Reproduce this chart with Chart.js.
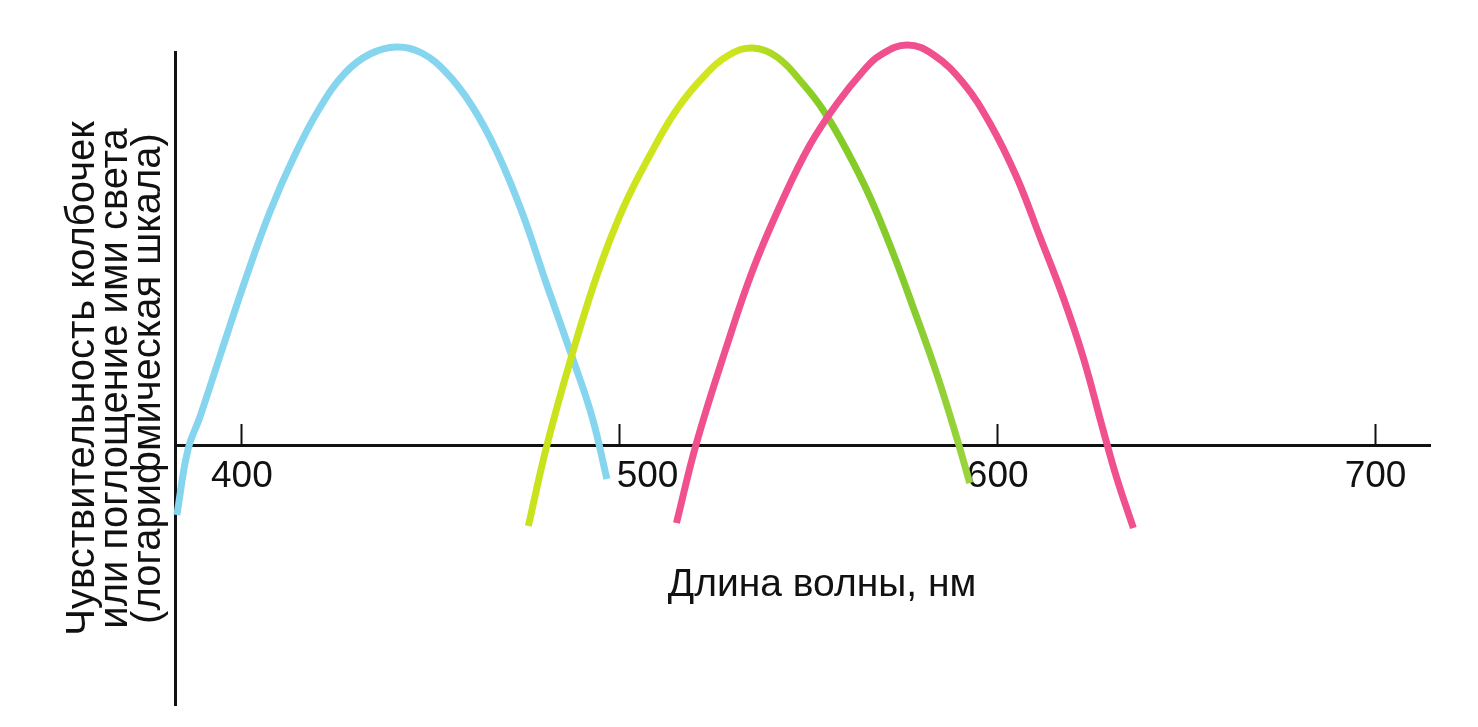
<!DOCTYPE html>
<html>
<head>
<meta charset="utf-8">
<script src="https://cdn.jsdelivr.net/npm/chart.js@4/dist/chart.umd.min.js"></script>
<style>
  html, body { margin: 0; padding: 0; background: #ffffff; }
  #wrap { width: 1478px; height: 727px; position: relative; }
</style>
</head>
<body>
<div id="wrap"><canvas id="c" width="1478" height="727"></canvas></div>
<script>
// ---- Data (wavelength in nm, relative sensitivity on a log scale, arbitrary units) ----
const blueWavelengths  = [382.8, 385.7, 388.9, 394.2, 400.8, 407.4, 414.0, 420.6, 427.3, 433.9, 441.0, 447.6, 454.2, 460.9, 467.5, 474.1, 480.7, 487.3, 492.6, 496.6];
const blueValues       = [-0.70, -0.05, 0.28, 0.89, 1.64, 2.33, 2.90, 3.37, 3.72, 3.91, 3.98, 3.92, 3.72, 3.39, 2.93, 2.33, 1.60, 0.89, 0.29, -0.34];

const greenWavelengths = [475.8, 480.6, 486.8, 493.9, 500.9, 508.0, 515.0, 522.1, 528.9, 535.2, 541.6, 548.5, 553.8, 560.0, 566.2, 572.3, 577.6, 583.8, 589.1, 592.6];
const greenValues      = [-0.81, -0.02, 0.83, 1.69, 2.37, 2.90, 3.35, 3.68, 3.90, 3.97, 3.88, 3.61, 3.35, 2.95, 2.48, 1.92, 1.38, 0.72, 0.08, -0.38];

const pinkWavelengths  = [515.0, 520.3, 528.3, 535.3, 543.2, 550.3, 557.4, 564.4, 568.8, 576.0, 583.1, 590.9, 597.9, 605.0, 611.2, 617.3, 622.6, 627.9, 631.5, 635.9];
const pinkValues       = [-0.78, 0.02, 0.99, 1.76, 2.46, 3.00, 3.41, 3.74, 3.895, 4.00, 3.90, 3.62, 3.22, 2.68, 2.08, 1.48, 0.88, 0.15, -0.33, -0.83];

const xTicks      = [400, 500, 600, 700];
const xTickLabels = ['400', '\u2003\u2002500', '600', '700'];
const xMin = 382.3, xMax = 714.4;
const yMin = -2.6,  yMax = 3.93;

const xTitle = '\u2002\u2002Длина волны, нм';
const yTitle = ['Чувствительность колбочек', 'или поглощение ими света', '(логарифмическая шкала)'];

// ---- helpers ----
function pts(xs, ys) { return xs.map((x, i) => ({ x: x, y: ys[i] })); }

const FONT = "'Liberation Sans', Arial, Helvetica, sans-serif";

function greenGradient(ctx) {
  const chart = ctx.chart;
  if (!chart.chartArea) return '#a8d82a';
  const xs = chart.scales.x;
  const x0 = xs.getPixelForValue(greenWavelengths[0]);
  const x1 = xs.getPixelForValue(greenWavelengths[greenWavelengths.length - 1]);
  const g = chart.ctx.createLinearGradient(x0, 0, x1, 0);
  g.addColorStop(0.0, '#c8e21c');
  g.addColorStop(0.45, '#d2e61e');
  g.addColorStop(0.66, '#84cc26');
  g.addColorStop(0.85, '#86cb2e');
  g.addColorStop(1.0, '#9ad43e');
  return g;
}

new Chart(document.getElementById('c'), {
  type: 'line',
  data: {
    datasets: [
      { label: 'S', data: pts(blueWavelengths, blueValues), borderColor: '#86d5ef', borderWidth: 7,
        pointRadius: 0, tension: 0.4, clip: false, order: 3 },
      { label: 'M', data: pts(greenWavelengths, greenValues), borderColor: greenGradient, borderWidth: 7,
        pointRadius: 0, tension: 0.4, clip: false, order: 2 },
      { label: 'L', data: pts(pinkWavelengths, pinkValues), borderColor: '#f0508e', borderWidth: 7,
        pointRadius: 0, tension: 0.4, clip: false, order: 1 }
    ]
  },
  options: {
    responsive: false,
    animation: false,
    events: [],
    layout: { padding: { left: 0, top: 52, right: 48, bottom: 22 } },
    plugins: { legend: { display: false }, tooltip: { enabled: false }, title: { display: false } },
    scales: {
      x: {
        type: 'linear',
        position: { y: 0 },
        min: xMin, max: xMax,
        afterBuildTicks: (s) => { s.ticks = xTicks.map(v => ({ value: v })); },
        grid: { display: true, drawOnChartArea: false, drawTicks: true, tickLength: -23, tickWidth: 2, tickColor: '#111' },
        border: { display: true, color: '#111', width: 3 },
        ticks: {
          color: '#111', padding: 33, maxRotation: 0, autoSkip: false,
          font: { family: FONT, size: 37 },
          callback: (v) => { const i = xTicks.indexOf(v); return i >= 0 ? xTickLabels[i] : ''; }
        },
        title: { display: true, text: xTitle, color: '#111', font: { family: FONT, size: 39 }, padding: { top: 29, bottom: 0 } }
      },
      y: {
        type: 'linear',
        position: 'left',
        min: yMin, max: yMax,
        afterFit: (s) => { s.width = 175; },
        grid: { display: true, drawOnChartArea: false, drawTicks: false },
        border: { display: true, color: '#111', width: 3 },
        ticks: { display: false },
        title: { display: true, text: yTitle, color: '#111', font: { family: FONT, size: 40, lineHeight: '33px' }, padding: { top: 66, bottom: 0 } }
      }
    }
  }
});
</script>
</body>
</html>
